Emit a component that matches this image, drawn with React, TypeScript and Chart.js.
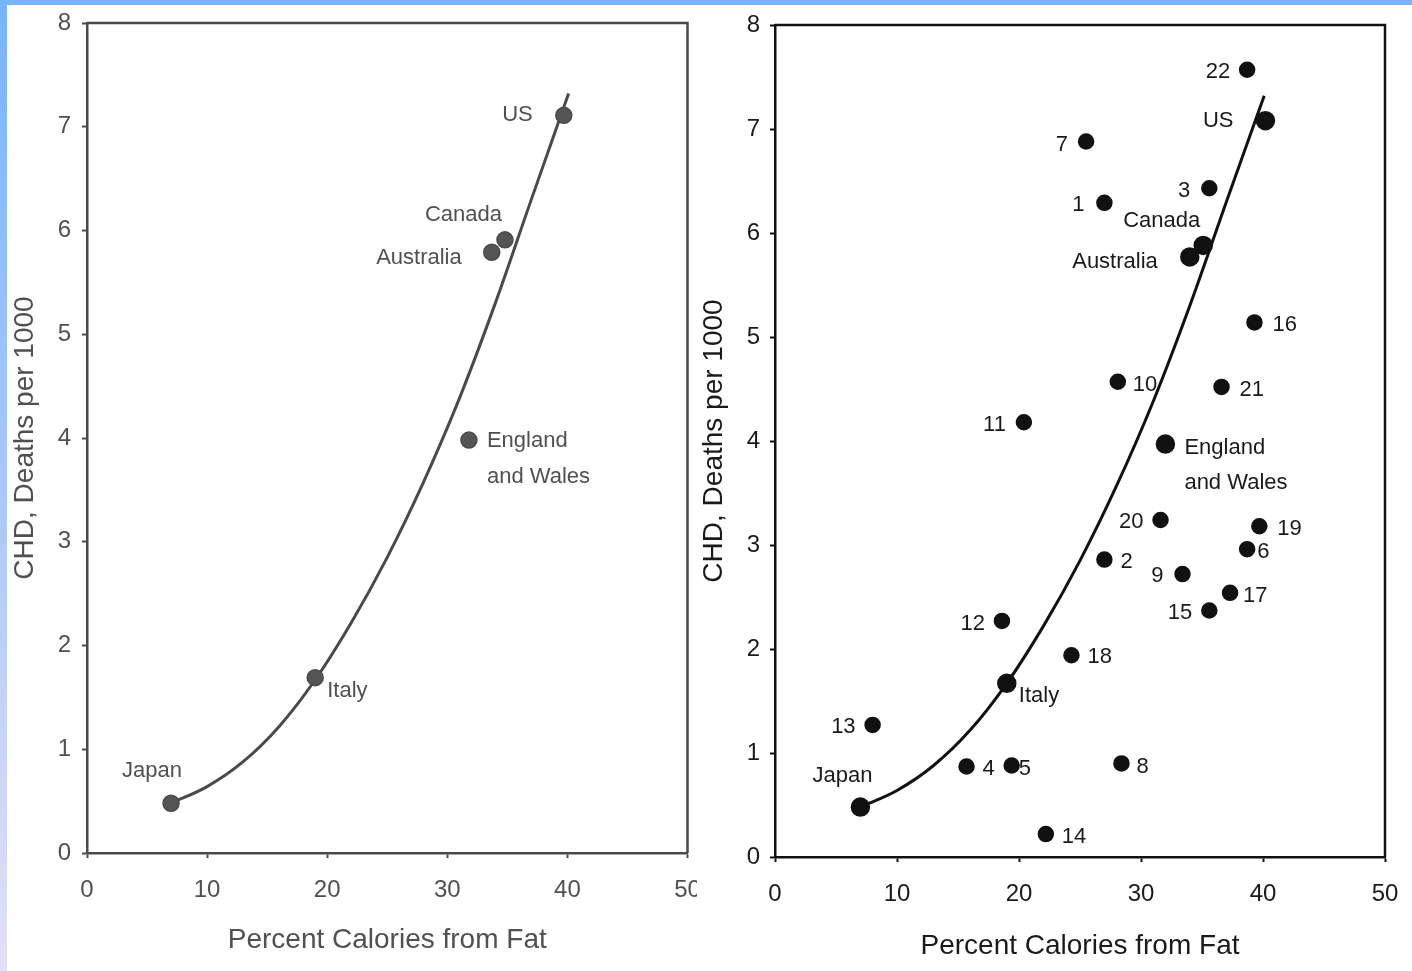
import React, { useEffect, useRef } from "react";
import { Chart, registerables } from "chart.js";
Chart.register(...registerables);

// ---------- data ----------
const xTicksMax = 50;
const yTicksMax = 8;

// smoothed fitted curve
const curveFat = [7, 10, 13, 16, 19, 22, 25, 28, 31, 34, 37, 40.1];
const curveChd = [0.48, 0.64, 0.88, 1.22, 1.67, 2.22, 2.85, 3.57, 4.38, 5.3, 6.3, 7.32];

// left panel: countries
const leftLabels = ["Japan", "Italy", "England\nand Wales", "Australia", "Canada", "US"];
const leftFat = [7, 19, 31.8, 33.7, 34.8, 39.7];
const leftChd = [0.48, 1.69, 3.98, 5.79, 5.91, 7.11];

// right panel: countries + numbered points
const rightLabels = ["22", "US", "7", "3", "1", "Canada", "Australia", "16", "10", "21", "11", "England\nand Wales", "20", "19", "6", "2", "9", "17", "15", "12", "18", "Italy", "13", "4", "5", "8", "Japan", "14"];
const rightFat = [38.7, 40.2, 25.5, 35.6, 27.0, 35.1, 34.0, 39.3, 28.1, 36.6, 20.4, 32.0, 31.6, 39.7, 38.7, 27.0, 33.4, 37.3, 35.6, 18.6, 24.3, 19.0, 8.0, 15.7, 19.4, 28.4, 7.0, 22.2];
const rightChd = [7.57, 7.08, 6.88, 6.43, 6.29, 5.88, 5.77, 5.14, 4.57, 4.52, 4.18, 3.97, 3.24, 3.18, 2.96, 2.86, 2.72, 2.54, 2.37, 2.27, 1.94, 1.67, 1.27, 0.87, 0.88, 0.90, 0.48, 0.22];

const xTitle = "Percent Calories from Fat";
const yTitle = "CHD, Deaths per 1000";

// ---------- label placement (style only) ----------
type Place = [CanvasTextAlign, number, number];
const leftPlace: Place[] = [
  ["center", -19, -32],
  ["left", 12, 13],
  ["left", 18, 1],
  ["right", -30, 6],
  ["right", -3, -25],
  ["right", -31, 0],
];
const rightPlace: Place[] = [
  ["right", -17, 2], // 22
  ["right", -32, 0], // US
  ["right", -18, 3], // 7
  ["right", -19, 3], // 3
  ["right", -20, 2], // 1
  ["right", -3, -25], // Canada
  ["right", -32, 5], // Australia
  ["left", 18, 2], // 16
  ["left", 15, 3], // 10
  ["left", 18, 3], // 21
  ["right", -18, 3], // 11
  ["left", 19, 4], // England
  ["right", -17, 2], // 20
  ["left", 18, 3], // 19
  ["left", 10, 3], // 6
  ["left", 16, 2], // 2
  ["right", -19, 2], // 9
  ["left", 13, 3], // 17
  ["right", -17, 2], // 15
  ["right", -17, 3], // 12
  ["left", 16, 2], // 18
  ["left", 12, 13], // Italy
  ["right", -17, 2], // 13
  ["left", 16, 2], // 4
  ["left", 7, 3], // 5
  ["left", 15, 4], // 8
  ["center", -18, -31], // Japan
  ["left", 16, 3], // 14
];
const rightBig = ["US", "Canada", "Australia", "England\nand Wales", "Italy", "Japan"];

const FONT = '"Liberation Sans", Arial, sans-serif';

type PanelCfg = {
  labels: string[];
  fat: number[];
  chd: number[];
  place: Place[];
  color: string;
  textColor: string;
  pointFill: string;
  pointRadius: (i: number) => number;
  yWidth: number;
  xHeight: number;
  padTop: number;
  padRight: number;
  yTickPad: number;
  xTitlePadBottom: number;
  lineSpacing: number;
};

function makeChart(canvas: HTMLCanvasElement, cfg: PanelCfg) {
  const labelPlugin = {
    id: "pointLabels",
    afterDatasetsDraw(chart: any) {
      const meta = chart.getDatasetMeta(0);
      const ctx = chart.ctx;
      ctx.save();
      ctx.font = `22px ${FONT}`;
      ctx.fillStyle = cfg.textColor;
      ctx.textBaseline = "middle";
      meta.data.forEach((el: any, i: number) => {
        const [align, dx, dy] = cfg.place[i];
        ctx.textAlign = align;
        const lines = cfg.labels[i].split("\n");
        lines.forEach((ln, k) => {
          ctx.fillText(ln, el.x + dx, el.y + dy + k * cfg.lineSpacing);
        });
      });
      ctx.restore();
    },
  };
  const framePlugin = {
    id: "frame",
    afterDraw(chart: any) {
      const { ctx, chartArea: a } = chart;
      ctx.save();
      ctx.strokeStyle = cfg.color;
      ctx.lineWidth = 2.5;
      ctx.beginPath();
      ctx.moveTo(a.left, a.top);
      ctx.lineTo(a.right, a.top);
      ctx.lineTo(a.right, a.bottom);
      ctx.stroke();
      ctx.restore();
    },
  };

  const zeroPad = (s: any) => {
    s.paddingLeft = 0;
    s.paddingRight = 0;
    s.paddingTop = 0;
    s.paddingBottom = 0;
  };

  return new Chart(canvas, {
    type: "scatter",
    data: {
      datasets: [
        {
          type: "scatter",
          data: cfg.fat.map((x, i) => ({ x, y: cfg.chd[i] })),
          backgroundColor: cfg.pointFill,
          borderColor: cfg.color,
          borderWidth: 1.5,
          pointRadius: cfg.labels.map((_, i) => cfg.pointRadius(i)),
          pointHoverRadius: 8,
        },
        {
          type: "line",
          data: curveFat.map((x, i) => ({ x, y: curveChd[i] })),
          borderColor: cfg.color,
          borderWidth: 3,
          pointRadius: 0,
          fill: false,
          cubicInterpolationMode: "monotone",
        } as any,
      ],
    },
    options: {
      animation: false,
      responsive: true,
      maintainAspectRatio: false,
      layout: { padding: { top: cfg.padTop, right: cfg.padRight, left: 0, bottom: 0 } },
      plugins: { legend: { display: false }, tooltip: { enabled: false } },
      scales: {
        x: {
          type: "linear",
          min: 0,
          max: xTicksMax,
          ticks: {
            stepSize: 10,
            color: cfg.textColor,
            font: { family: FONT, size: 24 },
            padding: 18,
            autoSkip: false,
            maxRotation: 0,
          },
          grid: { display: true, drawOnChartArea: false, drawTicks: true, tickLength: 5, tickColor: cfg.color, tickWidth: 2 },
          border: { display: true, color: cfg.color, width: 2.5 },
          title: {
            display: true,
            text: xTitle,
            color: cfg.textColor,
            font: { family: FONT, size: 28 },
            padding: { top: 0, bottom: cfg.xTitlePadBottom },
          },
          afterFit: (s: any) => {
            s.height = cfg.xHeight;
            zeroPad(s);
          },
        },
        y: {
          type: "linear",
          min: 0,
          max: yTicksMax,
          ticks: {
            stepSize: 1,
            color: cfg.textColor,
            font: { family: FONT, size: 24 },
            padding: cfg.yTickPad,
          },
          grid: { display: true, drawOnChartArea: false, drawTicks: true, tickLength: 5, tickColor: cfg.color, tickWidth: 2 },
          border: { display: true, color: cfg.color, width: 2.5 },
          title: {
            display: true,
            text: yTitle,
            color: cfg.textColor,
            font: { family: FONT, size: 28 },
            padding: { top: 0, bottom: 0 },
          },
          afterFit: (s: any) => {
            s.width = cfg.yWidth;
            zeroPad(s);
          },
        },
      },
    },
    plugins: [labelPlugin, framePlugin],
  } as any);
}

function Panel(props: { cfg: PanelCfg; left: number; top: number; width: number; height: number }) {
  const ref = useRef<HTMLCanvasElement>(null);
  useEffect(() => {
    if (!ref.current) return;
    const ch = makeChart(ref.current, props.cfg);
    return () => ch.destroy();
  }, []);
  return (
    <div style={{ position: "absolute", left: props.left, top: props.top, width: props.width, height: props.height }}>
      <canvas ref={ref} />
    </div>
  );
}

const leftCfg: PanelCfg = {
  labels: leftLabels,
  fat: leftFat,
  chd: leftChd,
  place: leftPlace,
  color: "#4a4a4a",
  textColor: "#505050",
  pointFill: "#555555",
  pointRadius: () => 8,
  yWidth: 79,
  xHeight: 118,
  padTop: 18,
  padRight: 5,
  yTickPad: 11,
  xTitlePadBottom: 14,
  lineSpacing: 36,
};

const rightCfg: PanelCfg = {
  labels: rightLabels,
  fat: rightFat,
  chd: rightChd,
  place: rightPlace,
  color: "#111111",
  textColor: "#1a1a1a",
  pointFill: "#111111",
  pointRadius: (i) => (rightBig.includes(rightLabels[i]) ? 9 : 7.5),
  yWidth: 78,
  xHeight: 114,
  padTop: 20,
  padRight: 27,
  yTickPad: 10,
  xTitlePadBottom: 8,
  lineSpacing: 35,
};

export default function App() {
  return (
    <div style={{ position: "absolute", left: 0, top: 0, width: 1412, height: 971, background: "#ffffff", overflow: "hidden" }}>
      <div style={{ position: "absolute", left: 0, top: 0, width: 1412, height: 5, background: "#78b4fa" }} />
      <div
        style={{
          position: "absolute",
          left: 0,
          top: 0,
          width: 7,
          height: 971,
          background: "linear-gradient(to bottom, #78b4fa 0%, #a9c8f6 50%, #e4e0f6 100%)",
        }}
      />
      <Panel cfg={leftCfg} left={8} top={5} width={689} height={966} />
      <Panel cfg={rightCfg} left={697} top={5} width={715} height={966} />
    </div>
  );
}
